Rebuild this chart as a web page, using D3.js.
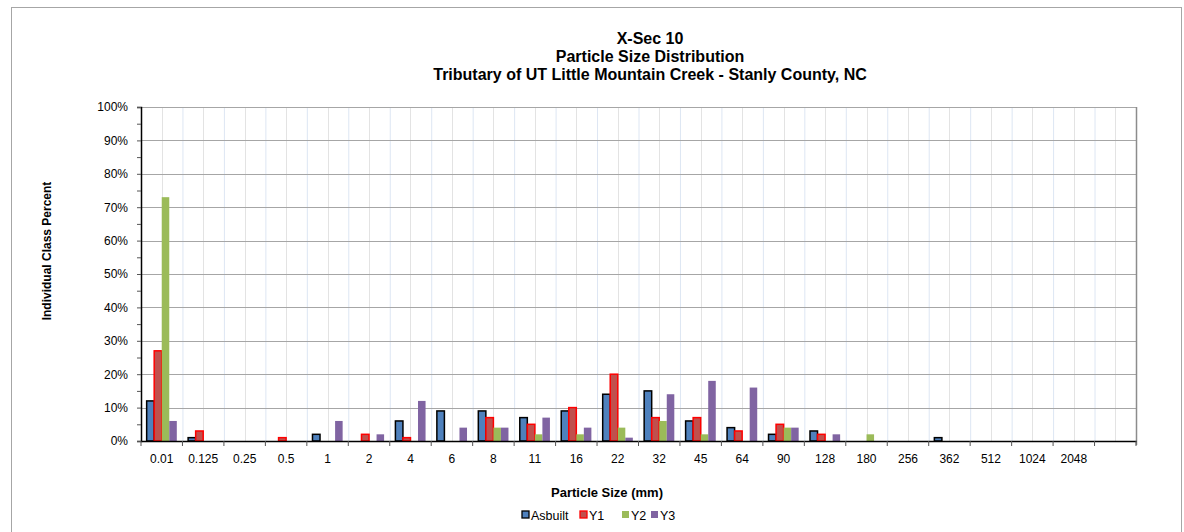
<!DOCTYPE html>
<html><head><meta charset="utf-8">
<script src="https://cdn.jsdelivr.net/npm/d3@7"></script>
<style>body{margin:0;background:#fff;} svg{display:block;font-family:"Liberation Sans",Arial,sans-serif;}</style>
</head><body>
<svg id="c" width="1184" height="532"></svg>
<script>
const categories = ["0.01","0.125","0.25","0.5","1","2","4","6","8","11","16","22","32","45","64","90","128","180","256","362","512","1024","2048",""];
const asbuilt = [12,1,0,0,2,0,6,9,9,7,9,14,15,6,4,2,3,0,0,1,0,0,0,0];
const y1 =      [27,3,0,1,0,2,1,0,7,5,10,20,7,7,3,5,2,0,0,0,0,0,0,0];
const y2 =      [73,0,0,0,0,0,0,0,4,2,2,4,6,2,0,4,0,2,0,0,0,0,0,0];
const y3 =      [6,0,0,0,6,2,12,4,4,7,4,1,14,18,16,4,2,0,0,0,0,0,0,0];
const seriesNames = ["Asbuilt","Y1","Y2","Y3"];
const yTicks = [0,10,20,30,40,50,60,70,80,90,100];
const titleLines = ["X-Sec 10","Particle Size Distribution","Tributary of UT Little Mountain Creek - Stanly County, NC"];

const seriesData = [asbuilt,y1,y2,y3];
const fills = ["#4F81BD","#C0504D","#9BBB59","#8064A2"];
const strokes = ["#000000","#FF0000","none","none"];

const svg = d3.select("#c");
// outer border
svg.append("rect").attr("x",11.5).attr("y",7.5).attr("width",1170).attr("height",530).attr("fill","none").attr("stroke","#a6a6a6");

const L=141, R=1136, T=107, B=441;
const x = d3.scaleBand().domain(categories.map((d,i)=>i)).range([L,R]);
const y = d3.scaleLinear().domain([0,100]).range([B,T]);
const bw = x.bandwidth();
const inner = d3.scaleBand().domain(seriesNames).range([0,bw]).paddingOuter(0.75).paddingInner(0);

// minor vertical gridlines at category boundaries (light blue)
categories.forEach((c,i)=>{
  if(i===0) return;
  svg.append("line").attr("x1",x(i)+0.5).attr("x2",x(i)+0.5).attr("y1",T).attr("y2",B)
    .attr("stroke","#dde6f3").attr("stroke-width",1);
});
// major vertical gridlines at band centers (light gray)
categories.forEach((c,i)=>{
  const cx = Math.round(x(i)+bw/2)+0.5;
  svg.append("line").attr("x1",cx).attr("x2",cx).attr("y1",T).attr("y2",B)
    .attr("stroke","#e3e3e3").attr("stroke-width",1);
});
// horizontal gridlines
yTicks.forEach(t=>{
  if(t===0) return;
  const yy = Math.round(y(t))+0.5;
  svg.append("line").attr("x1",L).attr("x2",R).attr("y1",yy).attr("y2",yy)
    .attr("stroke","#a6a6a6").attr("stroke-width",1);
});
// right border
svg.append("line").attr("x1",R+0.5).attr("x2",R+0.5).attr("y1",T).attr("y2",B+4).attr("stroke","#8c8c8c").attr("stroke-width",1.5);

// bars
seriesData.forEach((arr,s)=>{
  svg.append("g").selectAll("rect").data(arr.map((v,i)=>({v,i}))).join("rect")
    .filter(d=>d.v>0)
    .attr("x",d=>x(d.i)+inner(seriesNames[s]))
    .attr("y",d=>y(d.v))
    .attr("width",inner.bandwidth())
    .attr("height",d=>B-y(d.v))
    .attr("fill",fills[s])
    .attr("stroke",strokes[s])
    .attr("stroke-width",strokes[s]==="none"?0:1.5);
});

// y axis
const yAxis = d3.axisLeft(y).tickValues(d3.range(0,101,5)).tickSize(4)
  .tickFormat(d=> d%10===0 ? d+"%" : "");
const gy = svg.append("g").attr("transform",`translate(${L},0)`).call(yAxis);
gy.select(".domain").attr("stroke","#000").attr("stroke-width",1.5);
gy.selectAll(".tick line").attr("stroke","#555");
gy.selectAll(".tick text").attr("font-size",12).attr("fill","#000").attr("x",-13)
  .attr("font-family","Liberation Sans, Arial, sans-serif");

// x axis
const xAxis = d3.axisBottom(x).tickFormat(i=>categories[i]).tickSize(0);
const gx = svg.append("g").attr("transform",`translate(0,${B})`).call(xAxis);
gx.select(".domain").attr("stroke","#000").attr("stroke-width",1.5);
gx.selectAll(".tick text").attr("font-size",12).attr("fill","#000").attr("dy","1.55em")
  .attr("font-family","Liberation Sans, Arial, sans-serif");
// boundary tick marks
d3.range(categories.length+1).forEach(i=>{
  const xx = i<categories.length ? x(i) : R;
  svg.append("line").attr("x1",xx).attr("x2",xx).attr("y1",B).attr("y2",B+5).attr("stroke","#555");
});

// title
svg.append("text").attr("x",650).attr("y",44).attr("text-anchor","middle")
  .attr("font-weight","bold").attr("font-size",16)
  .selectAll("tspan").data(titleLines).join("tspan").attr("x",650).attr("dy",(d,i)=>i===0?0:18).text(d=>d);

// y label
svg.append("text").attr("transform","translate(51,251) rotate(-90)").attr("text-anchor","middle")
  .attr("font-weight","bold").attr("font-size",12).text("Individual Class Percent");
// x label
svg.append("text").attr("x",607).attr("y",497).attr("text-anchor","middle")
  .attr("font-weight","bold").attr("font-size",13).text("Particle Size (mm)");

// legend
const lg = svg.append("g");
const items = [{n:"Asbuilt",x:522},{n:"Y1",x:580},{n:"Y2",x:622},{n:"Y3",x:651}];
items.forEach((it,s)=>{
  lg.append("rect").attr("x",it.x).attr("y",511).attr("width",7).attr("height",7)
    .attr("fill",fills[s]).attr("stroke",strokes[s]==="none"?"none":strokes[s]).attr("stroke-width",1.3);
  lg.append("text").attr("x",it.x+9).attr("y",519.5).attr("font-size",12.5).text(it.n);
});
</script>
</body></html>
